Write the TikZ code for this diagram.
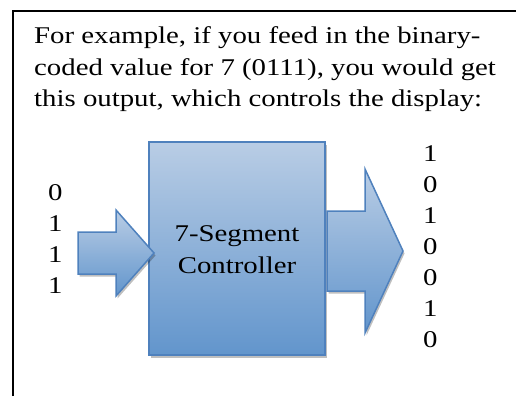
\documentclass[tikz,border=0pt]{standalone}
\usepackage{fontspec}
\setmainfont[FakeStretch=1.2]{Liberation Serif}
\usetikzlibrary{shadows}
\definecolor{blueedge}{RGB}{79,129,189}
\definecolor{bluetop}{RGB}{185,205,229}
\definecolor{bluebot}{RGB}{98,149,204}
\begin{document}
\begin{tikzpicture}[x=1pt,y=-1pt,
  txt/.style={font=\fontsize{24}{31.2}\selectfont, inner sep=0pt},
  bluefill/.style={draw=blueedge, line width=1.5pt, line join=miter, top color=bluetop, bottom color=bluebot,
     drop shadow={shadow xshift=1.5pt, shadow yshift=-2.5pt, opacity=0.25, fill=black}},
  frame/.style={line width=2pt, black}]
\useasboundingbox (0,0) rectangle (516,396);
% frame
\draw[frame] (13,396) -- (13,11) -- (517,11);
% heading
\node[txt, anchor=base west] (l1) at (34,44) {For example, if you feed in the binary-};
\node[txt, anchor=base west] (l2) at (34,75.5) {coded value for 7 (0111), you would get};
\node[txt, anchor=base west] (l3) at (34,106.7) {this output, which controls the display:};
% controller box
\path[bluefill] (149,142) rectangle (325,355);
\node[txt, anchor=base] (ctl1) at (237,241.5) {7-Segment};
\node[txt, anchor=base] (ctl2) at (237,273) {Controller};
% input arrow
\path[bluefill] (78,232) -- (116,232) -- (116,210) -- (154,253) -- (116,296) -- (116,274) -- (78,274) -- cycle;
% output arrow
\path[bluefill] (327,211) -- (365,211) -- (365,169) -- (403,251) -- (365,333) -- (365,291) -- (327,291) -- cycle;
% input bits
\foreach \b [count=\i from 0] in {0,1,1,1}
  \node[txt, anchor=base west] (in\i) at (48,200+31*\i) {\b};
% output bits
\foreach \b [count=\i from 0] in {1,0,1,0,0,1,0}
  \node[txt, anchor=base west] (out\i) at (423,161+31.1*\i) {\b};
\end{tikzpicture}
\end{document}
